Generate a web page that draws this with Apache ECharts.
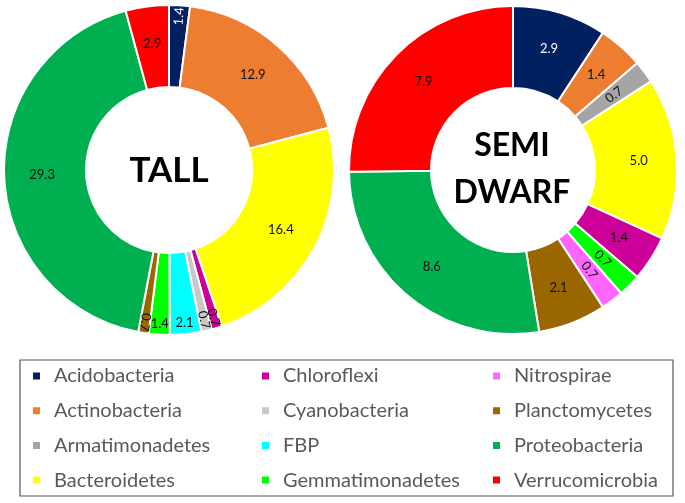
<!DOCTYPE html>
<html>
<head>
<meta charset="utf-8">
<script src="https://cdn.jsdelivr.net/npm/echarts@6/dist/echarts.min.js"></script>
<style>
  html, body { margin: 0; padding: 0; background: #ffffff; }
  #chart { width: 685px; height: 503px; }
</style>
</head>
<body>
<div id="chart"></div>
<script>
// ---- data ----
const categories = ['Acidobacteria', 'Actinobacteria', 'Armatimonadetes', 'Bacteroidetes',
  'Chloroflexi', 'Cyanobacteria', 'FBP', 'Gemmatimonadetes',
  'Nitrospirae', 'Planctomycetes', 'Proteobacteria', 'Verrucomicrobia'];
const tallValues = [1.4, 12.9, 0, 16.4, 0.7, 0.7, 2.1, 1.4, 0, 0.7, 29.3, 2.9];
const semiDwarfValues = [2.9, 1.4, 0.7, 5.0, 1.4, 0, 0, 0.7, 0.7, 2.1, 8.6, 7.9];
const tallTitle = 'TALL';
const semiDwarfTitle = 'SEMI\nDWARF';

// ---- styles ----
const colors = ['#002060', '#ED7D31', '#A5A5A5', '#FFFF00', '#CC0099', '#C8C8C8',
  '#00FFFF', '#00FF00', '#FF66FF', '#996600', '#00B050', '#FF0000'];
const tallRadial = ['Acidobacteria', 'Chloroflexi', 'Cyanobacteria', 'Planctomycetes'];
const tallOutward = ['Acidobacteria', 'Chloroflexi', 'Cyanobacteria', 'FBP', 'Gemmatimonadetes', 'Planctomycetes'];
const semiRadial = ['Armatimonadetes', 'Gemmatimonadetes', 'Nitrospirae'];
const FONT = 'Lato, "Open Sans", sans-serif';
const OUT_SHIFT = 27;

function buildData(values, radialNames, outwardNames) {
  const total = values.reduce((a, b) => a + b, 0);
  let cum = 0;
  const out = [];
  values.forEach((v, i) => {
    const mid = (cum + v / 2) / total * 360; // clockwise from top
    cum += v;
    if (v <= 0) return;
    const item = {
      name: categories[i],
      value: v,
      itemStyle: { color: colors[i] },
      label: { color: i === 0 ? '#ffffff' : '#111111' }
    };
    const radial = radialNames.indexOf(categories[i]) >= 0;
    if (radial) {
      item.label.rotate = 90 - mid;
    }
    if (outwardNames.indexOf(categories[i]) >= 0) {
      const rad = mid * Math.PI / 180;
      // offset is applied in the label's own (rotated) frame
      item.label.offset = radial
        ? [OUT_SHIFT, 0]
        : [Math.sin(rad) * OUT_SHIFT, -Math.cos(rad) * OUT_SHIFT];
    }
    out.push(item);
  });
  return out;
}

function pieSeries(center, radius, values, radialNames, outwardNames) {
  return {
    type: 'pie',
    center: center,
    radius: radius,
    startAngle: 90,
    clockwise: true,
    avoidLabelOverlap: false,
    silent: true,
    itemStyle: { borderColor: '#ffffff', borderWidth: 2 },
    label: {
      show: true,
      position: 'inside',
      fontFamily: FONT,
      fontSize: 13,
      overflow: 'none',
      formatter: p => p.value.toFixed(1)
    },
    labelLayout: { hideOverlap: false },
    labelLine: { show: false },
    emphasis: { disabled: true },
    data: buildData(values, radialNames, outwardNames)
  };
}

function legendCol(names, left) {
  return {
    orient: 'vertical',
    left: left,
    top: 365,
    padding: 0,
    itemWidth: 9,
    itemHeight: 9,
    itemGap: 12.7,
    icon: 'rect',
    selectedMode: false,
    textStyle: {
      fontFamily: FONT,
      fontSize: 20,
      lineHeight: 22,
      color: '#595959',
      padding: [0, 0, 0, 8]
    },
    data: names
  };
}

const chart = echarts.init(document.getElementById('chart'), null, { renderer: 'canvas' });
chart.setOption({
  animation: false,
  backgroundColor: '#ffffff',
  color: colors,
  legend: [
    legendCol(categories.slice(0, 4), 31),
    legendCol(categories.slice(4, 8), 260),
    legendCol(categories.slice(8, 12), 491)
  ],
  graphic: [
    {
      type: 'rect',
      shape: { x: 20, y: 360, width: 653, height: 136 },
      style: { fill: 'none', stroke: '#555555', lineWidth: 1.2 },
      silent: true
    },
    {
      type: 'text',
      x: 169, y: 171,
      style: {
        text: tallTitle, fontFamily: FONT, fontWeight: 'bold', fontSize: 35,
        fill: '#000000', align: 'center', verticalAlign: 'middle'
      },
      silent: true
    },
    {
      type: 'text',
      x: 512, y: 169,
      style: {
        text: semiDwarfTitle, fontFamily: FONT, fontWeight: 'bold', fontSize: 32,
        lineHeight: 47, fill: '#000000', align: 'center', verticalAlign: 'middle'
      },
      silent: true
    }
  ],
  series: [
    pieSeries([169, 170], [83, 165], tallValues, tallRadial, tallOutward),
    pieSeries([513, 170], [82, 164], semiDwarfValues, semiRadial, [])
  ]
});
</script>
</body>
</html>
